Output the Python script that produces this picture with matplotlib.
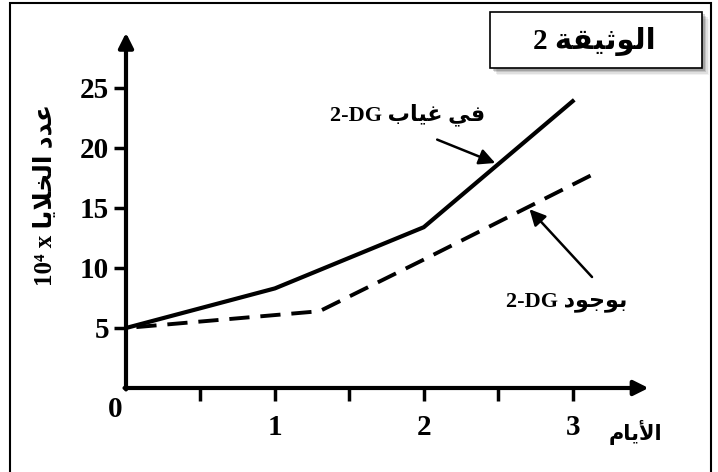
import numpy as np
import matplotlib
matplotlib.use("Agg")
import matplotlib.pyplot as plt
from matplotlib.patches import Rectangle

jours_sans = [0, 1, 2, 3]
cellules_sans = [5, 8.3, 13.4, 23.9]          # في غياب 2-DG
jours_avec = [0, 1.3, 2, 3.12]
cellules_avec = [5, 6.4, 10.7, 17.7]          # بوجود 2-DG

ticks_x = [0.5, 1, 1.5, 2, 2.5, 3]
labels_x = ['', '1', '', '2', '', '3']
ticks_y = [5, 10, 15, 20, 25]

# Textes arabes (formes de présentation, ordre visuel)
titre = "2 " + "\uFE94\uFED8\uFEF4\uFE9B\uFEEE\uFEDF\uFE8D"                 # الوثيقة 2
txt_sans = "2-DG " + "\uFE8F\uFE8E\uFEF4\uFECF" + " " + "\uFEF2\uFED3"     # في غياب 2-DG
txt_avec = "2-DG " + "\uFEA9\uFEEE\uFE9F\uFEEE\uFE91"                     # بوجود 2-DG
txt_jours = "\uFEE1\uFE8E\uFEF3\uFEF7\uFE8D"                              # الأيام
txt_y = "10\u2074 x " + "\uFE8E\uFEF3\uFEFC\uFEA8\uFEDF\uFE8D" + " " + "\uFEA9\uFEAA\uFECB"  # عدد الخلايا x 10⁴

polices = ['Liberation Serif', 'DejaVu Sans']
plt.rcParams['font.family'] = polices
plt.rcParams['font.weight'] = 'bold'

W, H = 718, 472
fig = plt.figure(figsize=(W / 100, H / 100), dpi=100)

def fx(px):
    return px / W

def fy(py):
    return 1 - py / H

# cadre extérieur
fig.add_artist(Rectangle((fx(10), fy(474)), fx(711) - fx(10), fy(3) - fy(474),
                         transform=fig.transFigure, fill=False, lw=1.5, ec='black'))

# encadré du titre avec ombre
for i, a in enumerate([0.05, 0.08, 0.12, 0.17]):
    d = 7 - i * 1.5
    fig.add_artist(Rectangle((fx(490 + d), fy(68 + d)), fx(702) - fx(490), fy(12) - fy(68),
                             transform=fig.transFigure, fc='black', ec='none', alpha=a))
fig.add_artist(Rectangle((fx(490), fy(68)), fx(702) - fx(490), fy(12) - fy(68),
                         transform=fig.transFigure, fc='white', ec='black', lw=1.2))
fig.text(fx(594), fy(42), titre, ha='center', va='center', fontsize=21, fontweight='bold')

# axes : x=0 à 126 px, 149 px par jour ; y=0 à 388 px, 12 px par unité
ax = fig.add_axes([fx(126), fy(388), fx(662) - fx(126), fy(28) - fy(388)])
ax.set_xlim(0, 3.6)
ax.set_ylim(0, 30)
for s in ax.spines.values():
    s.set_visible(False)
ax.patch.set_alpha(0)

ax.annotate('', xy=(3.51, 0), xytext=(-0.01, 0),
            arrowprops=dict(arrowstyle='-|>', lw=3, color='black', mutation_scale=22,
                            shrinkA=0, shrinkB=0), annotation_clip=False)
ax.annotate('', xy=(0, 29.6), xytext=(0, -0.12),
            arrowprops=dict(arrowstyle='-|>', lw=3, color='black', mutation_scale=22,
                            shrinkA=0, shrinkB=0), annotation_clip=False)

ax.plot(jours_sans, cellules_sans, color='black', lw=3, solid_joinstyle='miter')
# tracé depuis la fin pour que le dernier tiret touche l'extrémité
ax.plot(jours_avec[::-1], cellules_avec[::-1], color='black', lw=2.8,
        linestyle=(0, (5.2, 2.8)))

ax.set_xticks(ticks_x)
ax.set_xticklabels(labels_x)
ax.set_yticks(ticks_y)
ax.set_yticklabels([str(v) for v in ticks_y])
ax.tick_params(axis='x', direction='out', length=9, width=2.5, pad=10, labelsize=21)
ax.tick_params(axis='y', direction='out', length=9, width=2.5, pad=3, labelsize=21)
for t in ax.get_xticklabels() + ax.get_yticklabels():
    t.set_fontweight('bold')

ax.text(-0.07, -1.8, '0', ha='center', va='center', fontsize=21, fontweight='bold')

ax.text(3.42, -3.7, txt_jours, ha='center', va='center', fontsize=15, fontweight='bold')
fig.text(fx(46), fy(195), txt_y, rotation=90, ha='center', va='center',
         fontsize=18, fontweight='bold')

# légendes et flèches
ax.text(1.89, 22.75, txt_sans, ha='center', va='center', fontsize=16, fontweight='bold')
ax.text(2.96, 7.2, txt_avec, ha='center', va='center', fontsize=16, fontweight='bold')
ax.annotate('', xy=(2.48, 18.75), xytext=(2.09, 20.7),
            arrowprops=dict(arrowstyle='-|>', lw=1.8, color='black', mutation_scale=24,
                            shrinkA=0, shrinkB=0), annotation_clip=False)
ax.annotate('', xy=(2.71, 14.9), xytext=(3.13, 9.25),
            arrowprops=dict(arrowstyle='-|>', lw=1.8, color='black', mutation_scale=24,
                            shrinkA=0, shrinkB=0), annotation_clip=False)

fig.savefig('out.png', dpi=100)
